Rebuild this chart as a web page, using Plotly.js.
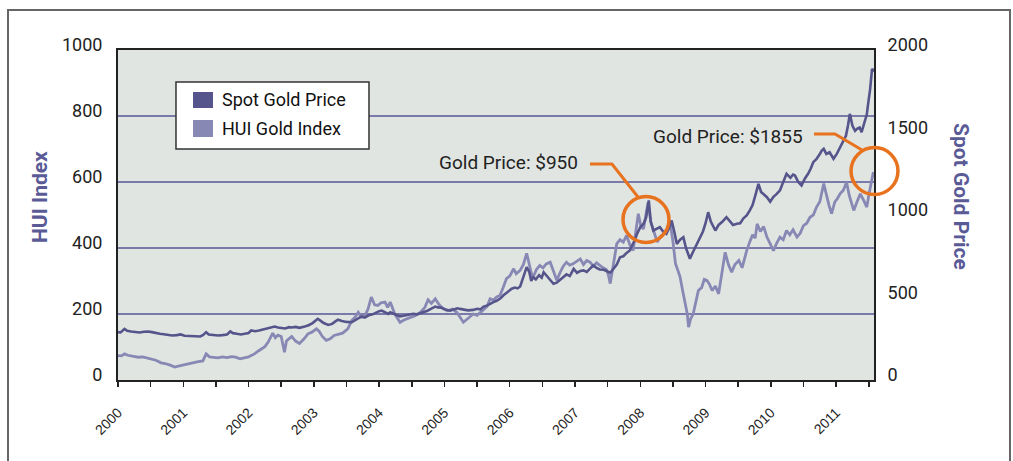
<!DOCTYPE html>
<html>
<head>
<meta charset="utf-8">
<script src="https://cdn.plot.ly/plotly-3.0.1.min.js"></script>
<style>
html,body{margin:0;padding:0;background:#fff;}
#chart{width:1013px;height:461px;}
</style>
</head>
<body>
<div id="chart"></div>
<script>
// HUI Gold Index (left axis), decimal years
var huiDates = [
  2000.00, 2000.05, 2000.10, 2000.15, 2000.22, 2000.31, 2000.38, 2000.45, 2000.51, 2000.58, 2000.66, 2000.72, 2000.80, 2000.87, 2000.94,
  2001.02, 2001.10, 2001.18, 2001.23, 2001.30, 2001.35, 2001.40, 2001.46, 2001.53, 2001.60, 2001.67, 2001.74, 2001.80, 2001.87, 2001.94,
  2002.00, 2002.04, 2002.09, 2002.15, 2002.20, 2002.25, 2002.30, 2002.34, 2002.37, 2002.41, 2002.45, 2002.50, 2002.55, 2002.58, 2002.62, 2002.66, 2002.72, 2002.78, 2002.85, 2002.91, 2002.97,
  2003.04, 2003.08, 2003.13, 2003.19, 2003.25, 2003.31, 2003.37, 2003.44, 2003.52, 2003.58, 2003.63, 2003.68, 2003.73, 2003.78, 2003.83, 2003.88, 2003.93, 2003.98,
  2004.03, 2004.09, 2004.13, 2004.17, 2004.24, 2004.32, 2004.38, 2004.47, 2004.55, 2004.63, 2004.70, 2004.75, 2004.80, 2004.86, 2004.92, 2004.98,
  2005.05, 2005.12, 2005.19, 2005.24, 2005.29, 2005.35, 2005.40, 2005.44, 2005.50, 2005.55, 2005.60, 2005.65, 2005.70, 2005.75, 2005.80, 2005.85, 2005.90, 2005.95,
  2006.00, 2006.06, 2006.10, 2006.16, 2006.21, 2006.26, 2006.30, 2006.33, 2006.36, 2006.41, 2006.46, 2006.51, 2006.56, 2006.62, 2006.67, 2006.72, 2006.77, 2006.82, 2006.87, 2006.92, 2006.97,
  2007.03, 2007.08, 2007.13, 2007.18, 2007.23, 2007.28, 2007.33, 2007.38, 2007.43, 2007.48, 2007.51, 2007.54, 2007.58, 2007.61, 2007.64, 2007.69, 2007.74, 2007.79, 2007.84, 2007.89, 2007.93, 2007.97,
  2008.01, 2008.05, 2008.09, 2008.12, 2008.16, 2008.21, 2008.26, 2008.31, 2008.36, 2008.41, 2008.46, 2008.50, 2008.54, 2008.58, 2008.61, 2008.65, 2008.69, 2008.72, 2008.74, 2008.77, 2008.81, 2008.85, 2008.89, 2008.94, 2008.98,
  2009.02, 2009.06, 2009.10, 2009.15, 2009.20, 2009.25, 2009.30, 2009.35, 2009.40, 2009.45, 2009.51, 2009.56, 2009.60, 2009.63, 2009.68, 2009.72, 2009.76, 2009.79, 2009.84, 2009.89, 2009.94, 2009.99,
  2010.04, 2010.09, 2010.14, 2010.19, 2010.24, 2010.29, 2010.34, 2010.40, 2010.45, 2010.50, 2010.55, 2010.60, 2010.65, 2010.70, 2010.75, 2010.81, 2010.85, 2010.89, 2010.93, 2010.98,
  2011.02, 2011.06, 2011.11, 2011.16, 2011.20, 2011.24, 2011.27, 2011.32, 2011.37, 2011.42, 2011.47, 2011.50, 2011.53, 2011.57
];
var huiValues = [
  74, 73, 79, 75, 72, 69, 70, 66, 64, 60, 52, 50, 45, 39, 43,
  47, 50, 54, 56, 58, 79, 70, 68, 67, 70, 68, 71, 69, 64, 66,
  70, 74, 79, 88, 95, 101, 115, 128, 142, 128, 136, 132, 84, 118, 125, 132, 118, 111, 125, 140, 145,
  155, 148, 132, 120, 125, 135, 138, 142, 155, 180, 190, 205, 190, 195, 215, 251, 228, 226,
  234, 236, 220, 236, 200, 175, 182, 190, 195, 205, 220, 243, 232, 246, 228, 216,
  210, 215, 205, 190, 175, 185, 192, 200, 196, 205, 211, 222, 246, 242, 252, 256, 280, 307,
  315, 337, 322, 332, 350, 384, 350, 325, 312, 335, 347, 340, 352, 357, 330, 302, 325, 345, 357, 348, 352,
  360, 367, 350, 362, 357, 345, 355, 347, 340, 335, 320, 292, 340, 380, 413, 425, 418, 438, 410, 392, 455, 504,
  465, 458, 505, 539, 480, 445, 418, 435, 443, 455, 473, 420, 352, 330, 312, 270, 231, 200, 160, 185, 200, 240, 271, 280, 305,
  302, 290, 271, 285, 261, 330, 387, 350, 327, 350, 362, 340, 375, 392, 420, 440, 430, 473, 450, 465, 433, 410,
  392, 415, 433, 425, 453, 440, 455, 433, 445, 468, 475, 493, 500, 524, 540, 595, 560, 530, 504, 540,
  550, 564, 575, 599, 560, 535, 514, 540, 564, 545, 524, 560, 590, 630
];

// Spot Gold Price (right axis), decimal years
var goldDates = [
  2000.00, 2000.04, 2000.10, 2000.14, 2000.20, 2000.27, 2000.33, 2000.40, 2000.46, 2000.52, 2000.58, 2000.64, 2000.70, 2000.77, 2000.83, 2000.90, 2000.96,
  2001.02, 2001.08, 2001.14, 2001.20, 2001.26, 2001.30, 2001.35, 2001.39, 2001.45, 2001.53, 2001.60, 2001.67, 2001.72, 2001.76, 2001.82, 2001.88, 2001.94,
  2002.00, 2002.04, 2002.10, 2002.16, 2002.22, 2002.28, 2002.34, 2002.40, 2002.45, 2002.50, 2002.56, 2002.62, 2002.66, 2002.72, 2002.78, 2002.86, 2002.92, 2002.98,
  2003.02, 2003.06, 2003.10, 2003.15, 2003.22, 2003.28, 2003.33, 2003.37, 2003.43, 2003.50, 2003.58, 2003.64, 2003.68, 2003.73, 2003.78, 2003.84, 2003.90, 2003.95,
  2004.00, 2004.04, 2004.09, 2004.14, 2004.17, 2004.22, 2004.28, 2004.32, 2004.38, 2004.45, 2004.52, 2004.58, 2004.63, 2004.68, 2004.74, 2004.80, 2004.86, 2004.90, 2004.96,
  2005.03, 2005.09, 2005.14, 2005.20, 2005.24, 2005.30, 2005.36, 2005.44, 2005.50, 2005.55, 2005.60, 2005.66, 2005.70, 2005.75, 2005.80, 2005.86, 2005.90, 2005.96,
  2006.03, 2006.08, 2006.12, 2006.16, 2006.20, 2006.23, 2006.26, 2006.30, 2006.33, 2006.36, 2006.40, 2006.45, 2006.49, 2006.52, 2006.57, 2006.62, 2006.67, 2006.72, 2006.77, 2006.82, 2006.87, 2006.92, 2006.98,
  2007.03, 2007.08, 2007.13, 2007.18, 2007.23, 2007.28, 2007.33, 2007.38, 2007.44, 2007.49, 2007.54, 2007.59, 2007.64, 2007.69, 2007.74, 2007.79, 2007.84, 2007.88, 2007.92, 2007.95,
  2008.00, 2008.05, 2008.09, 2008.13, 2008.16, 2008.20, 2008.25, 2008.30, 2008.35, 2008.40, 2008.44, 2008.48, 2008.52, 2008.56, 2008.61, 2008.66, 2008.70, 2008.73, 2008.76, 2008.80, 2008.84, 2008.88, 2008.92, 2008.96,
  2009.00, 2009.04, 2009.08, 2009.12, 2009.15, 2009.20, 2009.26, 2009.32, 2009.37, 2009.42, 2009.48, 2009.53, 2009.58, 2009.63, 2009.68, 2009.72, 2009.77, 2009.81, 2009.85, 2009.90, 2009.94, 2009.99,
  2010.04, 2010.09, 2010.14, 2010.19, 2010.24, 2010.30, 2010.34, 2010.37, 2010.42, 2010.47, 2010.52, 2010.57, 2010.61, 2010.65, 2010.70, 2010.75, 2010.78, 2010.81, 2010.85, 2010.90, 2010.96,
  2011.01, 2011.06, 2011.11, 2011.15, 2011.18, 2011.21, 2011.25, 2011.29, 2011.32, 2011.36, 2011.39, 2011.43, 2011.47, 2011.49, 2011.52, 2011.55, 2011.58
];
var goldValues = [
  290, 288, 310, 298, 294, 290, 288, 292, 294, 290, 284, 280, 277, 274, 270, 272, 276,
  268, 266, 266, 262, 264, 272, 290, 276, 272, 270, 272, 276, 294, 284, 280, 276, 280,
  285, 300, 296, 300, 306, 312, 322, 324, 318, 314, 312, 320, 318, 322, 316, 324, 332, 345,
  358, 371, 360, 345, 334, 340, 355, 365, 358, 352, 350, 362, 372, 385, 378, 392, 398, 410,
  417, 421, 412, 401, 411, 400, 392, 385, 392, 396, 401, 398, 405, 411, 420, 432, 445, 440, 438,
  425, 420, 428, 435, 431, 428, 422, 425, 432, 428, 445, 452, 462, 472, 480, 495, 512, 530,
  553, 560, 555, 567, 620, 650, 684, 655, 600, 623, 610, 635, 620, 653, 630, 610, 583, 590, 605, 623, 640, 630, 674,
  650, 660, 664, 655, 675, 694, 680, 670, 668, 660, 650, 674, 700, 744, 750, 770, 785, 820, 850, 886,
  926, 947, 985, 1088, 960, 906, 915, 926, 900, 886, 920, 967, 900, 825, 850, 865, 800, 760, 735, 770, 805, 830, 865, 900,
  950, 1017, 960, 930, 906, 940, 960, 987, 960, 940, 947, 950, 980, 997, 1030, 1060, 1130, 1189, 1140, 1120, 1108, 1080,
  1110, 1128, 1150, 1200, 1250, 1225, 1245, 1239, 1200, 1179, 1220, 1250, 1280, 1320, 1340, 1370, 1390, 1401, 1370, 1380, 1341,
  1370, 1410, 1441, 1480, 1540, 1613, 1540, 1510, 1522, 1530, 1502, 1560, 1610, 1674, 1760, 1886, 1870
];

var yearLabels = ['2000','2001','2002','2003','2004','2005','2006','2007','2008','2009','2010','2011'];
var huiTicks = [0, 200, 400, 600, 800, 1000];
var goldTicks = [0, 500, 1000, 1500, 2000];
var seriesNames = ['Spot Gold Price', 'HUI Gold Index'];
var calloutTexts = ['Gold Price: $950', 'Gold Price: $1855'];

var tickVals = [], tickText = [];
yearLabels.forEach(function (y) {
  var v = parseInt(y, 10);
  tickVals.push(v); tickText.push(y);
  tickVals.push(v + 0.5); tickText.push('');
});

var NARROW = 'Roboto, "Liberation Sans Narrow", sans-serif';
var DARK = '#55558c';
var LIGHT = '#8888b5';
var TITLE = '#5a5a96';
var ORANGE = '#e8731f';

var traces = [
  { x: huiDates, y: huiValues, yaxis: 'y', type: 'scatter', mode: 'lines',
    name: seriesNames[1], line: { color: LIGHT, width: 2.8 }, showlegend: false, hoverinfo: 'skip' },
  { x: goldDates, y: goldValues, yaxis: 'y2', type: 'scatter', mode: 'lines',
    name: seriesNames[0], line: { color: DARK, width: 2.6 }, showlegend: false, hoverinfo: 'skip' }
];

var layout = {
  width: 1013, height: 461,
  margin: { l: 118, r: 139, t: 50, b: 81, pad: 0 },
  paper_bgcolor: '#ffffff',
  plot_bgcolor: '#e1e5e1',
  showlegend: false,
  font: { family: NARROW, color: '#222222' },
  xaxis: {
    type: 'linear', range: [2000, 2011.58],
    tickvals: tickVals, ticktext: tickText, tickangle: -45,
    ticks: 'outside', ticklen: 5, tickwidth: 1.5, tickcolor: '#222',
    tickfont: { family: '"Liberation Sans", Arial, sans-serif', size: 14, color: '#222' },
    ticklabelstandoff: 12,
    showline: true, linecolor: '#222', linewidth: 2, mirror: true,
    showgrid: false, zeroline: false, fixedrange: true
  },
  yaxis: {
    range: [0, 1000], tickvals: huiTicks, ticks: '',
    tickfont: { family: NARROW, size: 18, color: '#222' },
    ticklabelstandoff: 10, ticklabelshift: -5,
    showgrid: true, gridcolor: '#7a7aaa', gridwidth: 1.5,
    showline: true, linecolor: '#222', linewidth: 2, mirror: true,
    zeroline: false, fixedrange: true
  },
  yaxis2: {
    range: [0, 2000], tickvals: goldTicks, ticks: '',
    overlaying: 'y', side: 'right',
    tickfont: { family: NARROW, size: 18, color: '#222' },
    ticklabelstandoff: 8, ticklabelshift: -5,
    showgrid: false, showline: true, linecolor: '#222', linewidth: 2,
    zeroline: false, fixedrange: true
  },
  shapes: [
    { type: 'rect', xref: 'paper', yref: 'paper', x0: -0.1455, x1: 1.1799, y0: -0.30, y1: 1.1212,
      line: { color: '#666', width: 2 }, fillcolor: 'rgba(0,0,0,0)', layer: 'below' },
    { type: 'rect', xref: 'paper', yref: 'paper', x0: 0.0767, x1: 0.332, y0: 0.70, y1: 0.903,
      line: { color: '#333', width: 1.5 }, fillcolor: '#ffffff', layer: 'above' },
    { type: 'rect', xref: 'paper', yref: 'paper', x0: 0.0992, x1: 0.1257, y0: 0.8242, y1: 0.8727,
      line: { width: 0 }, fillcolor: DARK, layer: 'above' },
    { type: 'rect', xref: 'paper', yref: 'paper', x0: 0.0992, x1: 0.1257, y0: 0.7364, y1: 0.7879,
      line: { width: 0 }, fillcolor: LIGHT, layer: 'above' },
    { type: 'path', xref: 'paper', yref: 'paper',
      path: 'M 0.6243 0.6545 L 0.6534 0.6545 L 0.6878 0.5545',
      line: { color: ORANGE, width: 3 }, layer: 'above' },
    { type: 'circle', xref: 'paper', yref: 'paper', x0: 0.668, x1: 0.7288, y0: 0.4167, y1: 0.556,
      line: { color: ORANGE, width: 3.5 }, fillcolor: 'rgba(0,0,0,0)', layer: 'above' },
    { type: 'path', xref: 'paper', yref: 'paper',
      path: 'M 0.9206 0.7455 L 0.9484 0.7455 L 0.9841 0.697',
      line: { color: ORANGE, width: 3 }, layer: 'above' },
    { type: 'circle', xref: 'paper', yref: 'paper', x0: 0.9696, x1: 1.0317, y0: 0.5621, y1: 0.7045,
      line: { color: ORANGE, width: 3.5 }, fillcolor: 'rgba(0,0,0,0)', layer: 'above' }
  ],
  annotations: [
    { text: '<b>CHART A</b>', xref: 'paper', yref: 'paper', x: -0.1455, y: 1.1364,
      xanchor: 'left', yanchor: 'bottom', showarrow: false,
      font: { family: NARROW, size: 19, color: '#34348a' } },
    { text: '<b>HUI Index</b>', xref: 'paper', yref: 'paper', x: -0.1032, y: 0.5545,
      xanchor: 'center', yanchor: 'middle', textangle: -90, showarrow: false,
      font: { family: NARROW, size: 21, color: TITLE } },
    { text: '<b>Spot Gold Price</b>', xref: 'paper', yref: 'paper', x: 1.1151, y: 0.5576,
      xanchor: 'center', yanchor: 'middle', textangle: 90, showarrow: false,
      font: { family: NARROW, size: 21, color: TITLE } },
    { text: seriesNames[0], xref: 'paper', yref: 'paper', x: 0.1349, y: 0.8485,
      xanchor: 'left', yanchor: 'middle', showarrow: false,
      font: { family: NARROW, size: 18, color: '#111' } },
    { text: seriesNames[1], xref: 'paper', yref: 'paper', x: 0.1349, y: 0.7636,
      xanchor: 'left', yanchor: 'middle', showarrow: false,
      font: { family: NARROW, size: 18, color: '#111' } },
    { text: calloutTexts[0], xref: 'paper', yref: 'paper', x: 0.6111, y: 0.6606,
      xanchor: 'right', yanchor: 'middle', showarrow: false,
      font: { family: NARROW, size: 19, color: '#222' } },
    { text: calloutTexts[1], xref: 'paper', yref: 'paper', x: 0.9087, y: 0.7364,
      xanchor: 'right', yanchor: 'middle', showarrow: false,
      font: { family: NARROW, size: 19, color: '#222' } }
  ]
};

Plotly.newPlot('chart', traces, layout, { staticPlot: true, displayModeBar: false });
</script>
</body>
</html>
